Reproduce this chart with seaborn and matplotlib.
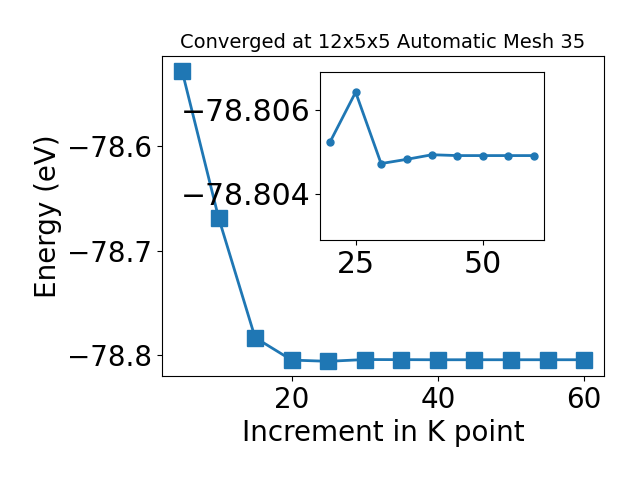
import matplotlib
matplotlib.use("Agg")
import matplotlib.pyplot as plt
import seaborn as sns

# K point increments and total energies (eV)
kpoints = [5, 10, 15, 20, 25, 30, 35, 40, 45, 50, 55, 60]
energy = [-78.5272, -78.6684, -78.7837, -78.80524, -78.80642, -78.80472,
          -78.80482, -78.80493, -78.80491, -78.80491, -78.80491, -78.80491]

# zoomed region
kpoints_zoom = kpoints[3:]
energy_zoom = energy[3:]

color = "#1f77b4"

fig = plt.figure(figsize=(6.4, 4.8), dpi=100)
ax = fig.add_axes([0.253, 0.217, 0.691, 0.666])

sns.lineplot(ax=ax, x=kpoints, y=energy, marker="s", markersize=11,
             color=color, linewidth=2, markeredgecolor=color, markeredgewidth=1)
ax.set_title("Converged at 12x5x5 Automatic Mesh 35", fontsize=14)
ax.set_xlabel("Increment in K point", fontsize=20)
ax.set_ylabel("Energy (eV)", fontsize=20)
ax.tick_params(labelsize=20)
ax.set_yticks([-78.6, -78.7, -78.8])
ax.set_xticks([20, 40, 60])

# Inset
axin = fig.add_axes([0.5, 0.5, 0.35, 0.35])
sns.lineplot(ax=axin, x=kpoints_zoom, y=energy_zoom, marker="o", markersize=5,
             color=color, linewidth=2, markeredgecolor=color, markeredgewidth=1)
axin.set_ylim(-78.8029, -78.8069)
axin.set_yticks([-78.806, -78.804])
axin.set_xticks([25, 50])
axin.ticklabel_format(axis="y", useOffset=False)
axin.tick_params(labelsize=21.5)

plt.savefig("out.png", dpi=100)
